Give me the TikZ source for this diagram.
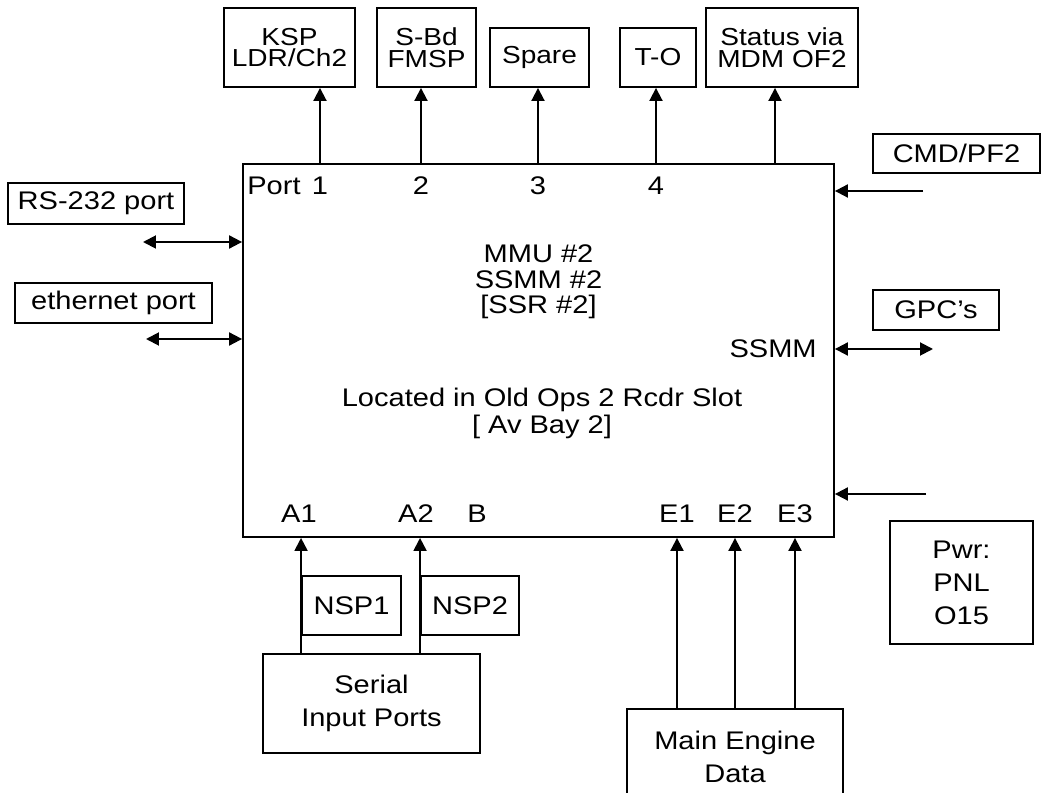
\documentclass[tikz,border=0pt]{standalone}
\usepackage{fontspec}
\setmainfont{Liberation Sans}[FakeStretch=1.14]
\usetikzlibrary{arrows.meta}

\begin{document}
\begin{tikzpicture}[
    x=0.02cm, y=-0.02cm,
    every node/.style={font=\fontsize{14.5}{14.5}\selectfont, inner sep=0pt},
    box/.style={draw, line width=1.1pt, align=center},
    topbox/.style={box, font=\fontsize{14}{12.2}\selectfont},
    lowbox/.style={box, font=\fontsize{14.5}{18.8}\selectfont},
    lbl/.style={anchor=base},
    link/.style={line width=1.1pt},
    >={Triangle[length=0.26cm, width=0.26cm]}
]
\useasboundingbox (0,0) rectangle (1042,793);
\clip (0,0) rectangle (1042,793);

% recorder
\node[box, minimum width=11.82cm, minimum height=7.46cm] (mmu) at (538.5,350.5) {};
\node[align=center] (ident) at (538.5,282) {MMU \#2\\SSMM \#2\\{[SSR \#2]}};
\node[align=center, font=\fontsize{14.5}{15.4}\selectfont] (place) at (542,413) {Located in Old Ops 2 Rcdr Slot\\{[ Av Bay 2]}};
\node[lbl, anchor=base east] (ssmm) at (817,358) {SSMM};

% output ports
\node[lbl, anchor=base west] (port) at (247,195) {Port};
\node[lbl] (p1) at (320,195) {1};
\node[lbl] (p2) at (421,195) {2};
\node[lbl] (p3) at (538,195) {3};
\node[lbl] (p4) at (656,195) {4};
\coordinate (p5) at (775,195);

\node[topbox, minimum width=2.62cm, minimum height=1.58cm] (ksp) at (289.5,47.5) {KSP\\LDR/Ch2};
\node[topbox, minimum width=1.98cm, minimum height=1.58cm] (sbd) at (426.5,47.5) {S-Bd\\FMSP};
\node[topbox, minimum width=1.98cm, minimum height=1.18cm] (spare) at (539.5,57.5) {Spare};
\node[topbox, minimum width=1.52cm, minimum height=1.18cm] (tro) at (658,57.5) {T-O};
\node[topbox, minimum width=3.04cm, minimum height=1.58cm] (status) at (782,47.5) {Status via\\MDM OF2};

\draw[link,->] (mmu.north -| p1) -- (ksp.south -| p1);
\draw[link,->] (mmu.north -| p2) -- (sbd.south -| p2);
\draw[link,->] (mmu.north -| p3) -- (spare.south -| p3);
\draw[link,->] (mmu.north -| p4) -- (tro.south -| p4);
\draw[link,->] (mmu.north -| p5) -- (status.south -| p5);

% left side
\node[box, minimum width=3.52cm, minimum height=0.82cm] (rs232) at (96,203.5) {RS-232 port};
\node[box, minimum width=3.94cm, minimum height=0.8cm] (ether) at (113.5,303) {ethernet port};
\coordinate (rsend) at (143,242);
\coordinate (ethend) at (146,339);
\draw[link,<->] (rsend) -- (mmu.west |- rsend);
\draw[link,<->] (ethend) -- (mmu.west |- ethend);

% right side
\node[box, minimum width=3.34cm, minimum height=0.78cm] (cmd) at (956.5,153.5) {CMD/PF2};
\node[box, minimum width=2.52cm, minimum height=0.8cm] (gpc) at (936,310) {GPC’s};
\node[lowbox, minimum width=2.86cm, minimum height=2.46cm] (pwr) at (961.5,582.5) {Pwr:\\PNL\\O15};
\coordinate (cmdend) at (923,191);
\coordinate (gpcend) at (933,349);
\coordinate (pwrend) at (926,494);
\draw[link,->] (cmdend) -- (mmu.east |- cmdend);
\draw[link,<->] (mmu.east |- gpcend) -- (gpcend);
\draw[link,->] (pwrend) -- (mmu.east |- pwrend);

% input ports
\node[lbl] (a1) at (299,523) {A1};
\node[lbl] (a2) at (416,523) {A2};
\node[lbl] (b) at (477,523) {B};
\node[lbl] (e1) at (677,523) {E1};
\node[lbl] (e2) at (735,523) {E2};
\node[lbl] (e3) at (795,523) {E3};

\node[box, minimum width=1.98cm, minimum height=1.18cm] (nsp1) at (351.5,605.5) {NSP1};
\node[box, minimum width=1.96cm, minimum height=1.18cm] (nsp2) at (470,605.5) {NSP2};
\node[lowbox, minimum width=4.34cm, minimum height=1.98cm] (serial) at (371.5,703.5) {Serial\\Input Ports};
\node[lowbox, minimum width=4.32cm, minimum height=1.92cm] (engine) at (735,757) {Main Engine\\Data};

\draw[link,->] (serial.north -| nsp1.west) -- (mmu.south -| nsp1.west);
\draw[link,->] (serial.north -| nsp2.west) -- (mmu.south -| nsp2.west);
\draw[link,->] (engine.north -| e1) -- (mmu.south -| e1);
\draw[link,->] (engine.north -| e2) -- (mmu.south -| e2);
\draw[link,->] (engine.north -| e3) -- (mmu.south -| e3);
\end{tikzpicture}
\end{document}
